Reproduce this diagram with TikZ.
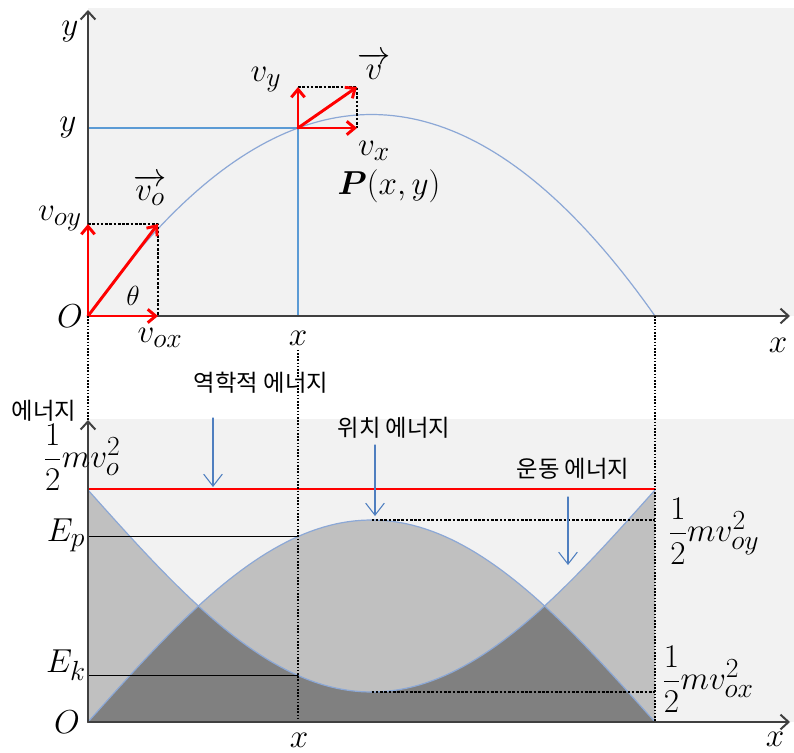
\documentclass[tikz,border=0pt]{standalone}
\usepackage{amsmath,amssymb}
\usepackage{fontspec}
\newfontfamily\kr{Noto Sans CJK KR}
\usetikzlibrary{arrows.meta}

\definecolor{panelgray}{HTML}{F2F2F2}
\definecolor{midgray}{HTML}{C0C0C0}
\definecolor{shadegray}{HTML}{808080}
\definecolor{curveblue}{HTML}{8CA8D6}
\definecolor{lineblue}{HTML}{5B9BD5}
\definecolor{arrowblue}{HTML}{4F7FC0}

\begin{document}
\begin{tikzpicture}[x=0.75pt,y=-0.75pt,line cap=round,line join=round,
    declare function={pe(\x)=202*sin((\x-88)*0.31746);
      traj(\x)=201.5*(1-((\x-371.5)/283.5)^2);},
    axis/.style={line width=1.5pt,draw=black!75,-{Straight Barb[length=6pt,width=11pt]}},
    vec/.style={line width=2.2pt,red,-{Straight Barb[length=6pt,width=10pt]}},
    comp/.style={line cap=butt,dash pattern=on 2pt off 1.2pt,line width=.9pt},
    guide/.style={line cap=butt,dash pattern=on 1.2pt off 1.2pt,line width=1.5pt},
    curve/.style={curveblue,line width=.9pt},
    pointer/.style={arrowblue,line width=.8pt,-{Straight Barb[length=9pt,width=14pt]}},
    lbl/.style={font=\Huge},
    big/.style={font=\Huge},
    klbl/.style={font=\fontsize{17.5}{20}\selectfont\kr}]
    \useasboundingbox (0,0) rectangle (794,753);

    % Upper panel: path of the projectile.
    \fill[panelgray] (88,8) rectangle (794,316);
    \coordinate (O) at (88,316);
    \coordinate (P) at (298,128);
    \coordinate (land) at (655,316);
    \coordinate (v0) at (158,224);
    \coordinate (vP) at (357,87);
    \draw[curve] plot[domain=88:655,samples=90] (\x,{316-traj(\x)});
    \draw[lineblue,line width=1.3pt] (O |- P) -- (P) -- (P |- O);
    \draw[axis] (O) -- (88,10);
    \draw[axis] (O) -- (790,316);

    % Velocity components at launch and at P.
    \draw[comp] (O |- v0) -- (v0) -- (v0 |- O);
    \draw[vec] (O) -- (O |- v0);
    \draw[vec] (O) -- (v0);
    \draw[vec] (O) -- (v0 |- O);
    \draw[comp] (P |- vP) -- (vP) -- (vP |- P);
    \draw[vec] (P) -- (P |- vP);
    \draw[vec] (P) -- (vP);
    \draw[vec] (P) -- (vP |- P);

    \node[big] (ylab) at (70,32) {$y$};
    \node[big] (ylevel) at (68,128) {$y$};
    \node[big] (Olab) at (70,316) {$O$};
    \node[big] (xlab) at (298,338) {$x$};
    \node[big] (xend) at (778,345) {$x$};
    \node[font=\huge] (thetalab) at (133,296) {$\theta$};
    \node[lbl] (voylab) at (60,219) {$v_{oy}$};
    \node[lbl] (voxlab) at (160,338) {$v_{ox}$};
    \node[lbl] (volab) at (150,190) {$\overrightarrow{v_o}$};
    \node[lbl] (vylab) at (266,80) {$v_y$};
    \node[lbl] (vlab) at (374,66) {$\overrightarrow{v}$};
    \node[lbl] (vxlab) at (374,151) {$v_x$};
    \node[lbl] (Plab) at (389,186) {$\boldsymbol{P}(x,y)$};

    % Lower panel: the two energies against x.
    \fill[panelgray] (88,419) rectangle (794,722);
    \coordinate (O2) at (88,722);
    \coordinate (end2) at (655,722);
    \fill[midgray] (O2) -- plot[domain=88:655,samples=90] (\x,{490+pe(\x)})
      -- (end2) -- cycle;
    \fill[midgray] (O2) -- plot[domain=88:655,samples=90] (\x,{722-pe(\x)}) -- cycle;
    \begin{scope}
      \clip (O2) -- plot[domain=88:655,samples=90] (\x,{722-pe(\x)}) -- cycle;
      \fill[shadegray] (O2) -- plot[domain=88:655,samples=90] (\x,{490+pe(\x)})
        -- (end2) -- cycle;
    \end{scope}
    \draw[curve] plot[domain=88:655,samples=90] (\x,{490+pe(\x)});
    \draw[curve] plot[domain=88:655,samples=90] (\x,{722-pe(\x)});

    \coordinate (Ep) at (298,{722-pe(298)});
    \coordinate (Ek) at (298,{490+pe(298)});
    \coordinate (top) at (371.5,520);
    \coordinate (bot) at (371.5,692);
    \draw[line width=1pt] (O2 |- Ep) -- (Ep);
    \draw[line width=1pt] (O2 |- Ek) -- (Ek);
    \draw[comp] (top) -- (top -| end2);
    \draw[comp] (bot) -- (bot -| end2);
    \draw[red,line width=1.3pt] (88,489) -- (655,489);

    \draw[guide] (O) -- (O2);
    \draw[guide] (xlab.south) -- (P |- O2);
    \draw[guide] (land) -- (end2);
    \draw[axis] (O2) -- (88,420);
    \draw[axis] (O2) -- (790,722);

    \coordinate (mechtip) at (213,487);
    \coordinate (pottip) at (375,516);
    \coordinate (kintip) at (568,565);
    \draw[pointer] (213,418) -- (mechtip);
    \draw[pointer] (375,445) -- (pottip);
    \draw[pointer] (568,497) -- (kintip);

    \node[klbl] (Elab) at (44,411) {에너지};
    \node[klbl] (mechlab) at (261,383) {역학적 에너지};
    \node[klbl] (potlab) at (394,428) {위치 에너지};
    \node[klbl] (kinlab) at (573,469) {운동 에너지};
    \node[font=\Huge] (Etot) at (82,457) {$\dfrac{1}{2}mv_o^2$};
    \node[lbl] (Eplab) at (66,535) {$E_p$};
    \node[lbl] (Eklab) at (66,665) {$E_k$};
    \node[big] (O2lab) at (67,722) {$O$};
    \node[big] (x2lab) at (299,740) {$x$};
    \node[big] (x2end) at (775,739) {$x$};
    \node[font=\Huge] (vyright) at (714,531) {$\dfrac{1}{2}mv_{oy}^2$};
    \node[font=\Huge] (vxright) at (708,679) {$\dfrac{1}{2}mv_{ox}^2$};
  \end{tikzpicture}
\end{document}
